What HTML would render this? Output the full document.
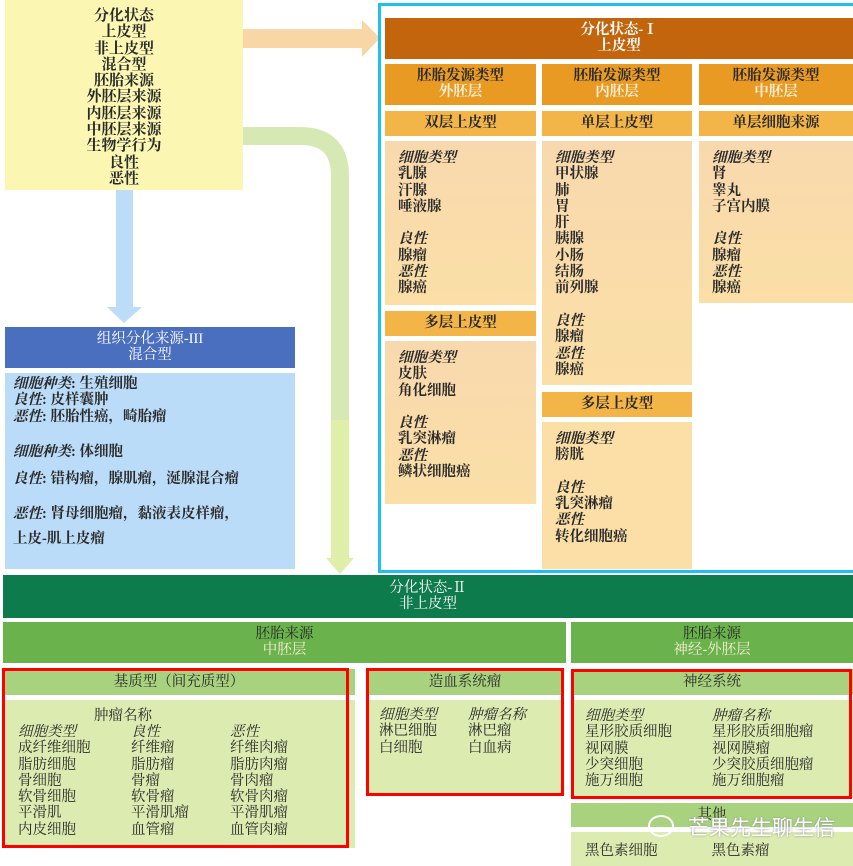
<!DOCTYPE html>
<html><head><meta charset="utf-8"><style>
*{margin:0;padding:0;box-sizing:border-box}
body{width:853px;height:866px;position:relative;background:#fff;overflow:hidden;font-family:"Liberation Serif","Noto Serif CJK SC",serif;font-size:14.5px;color:#2a2a2a;font-weight:bold}
.a{position:absolute}
.c{text-align:center}
.t{line-height:16.3px}
i{font-style:italic}
.w{color:#fff}
.lt{color:#f8efd8}
</style></head><body>
<svg class="a" style="left:0;top:0" width="853" height="866">
<rect x="243" y="29" width="122" height="19" fill="#f8d6a6"/>
<polygon points="362,20 380,38 362,57" fill="#f8d6a6"/>
<path d="M243 136 H300 Q340 136 340 176 V560" stroke="#d6e8b4" stroke-width="18" fill="none"/>
<rect x="331" y="420" width="18" height="140" fill="#dfeea8"/>
<polygon points="326,558 354,558 340,574" fill="#dfeea8"/>
<rect x="116" y="190" width="17" height="120" fill="#bcdcf8"/>
<polygon points="107,307 142,307 124,323" fill="#bcdcf8"/>
</svg>
<div class="a c t" style="left:5px;top:0px;width:238px;height:190px;background:#fbf7b2;padding-top:8px;font-size:15px">分化状态<br>上皮型<br>非上皮型<br>混合型<br>胚胎来源<br>外胚层来源<br>内胚层来源<br>中胚层来源<br>生物学行为<br>良性<br>恶性</div>
<div class="a" style="left:378px;top:3px;width:478px;height:570px;border:3px solid #1ec0ee"></div>
<div class="a c w t" style="left:385px;top:18px;width:468px;height:41px;background:#c2650c;padding-top:4px">分化状态-Ⅰ<br>上皮型</div>
<div class="a c t" style="left:385px;top:64px;width:151px;height:41px;background:#e99a22;padding-top:4px">胚胎发源类型<br><span class="lt">外胚层</span></div>
<div class="a c t" style="left:542px;top:64px;width:150px;height:41px;background:#e99a22;padding-top:4px">胚胎发源类型<br><span class="lt">内胚层</span></div>
<div class="a c t" style="left:699px;top:64px;width:154px;height:41px;background:#e99a22;padding-top:4px">胚胎发源类型<br><span class="lt">中胚层</span></div>
<div class="a c" style="left:385px;top:111px;width:151px;height:25px;background:#f3b548;line-height:25px">双层上皮型</div>
<div class="a c" style="left:542px;top:111px;width:150px;height:25px;background:#f3b548;line-height:25px">单层上皮型</div>
<div class="a c" style="left:699px;top:111px;width:154px;height:25px;background:#f3b548;line-height:25px">单层细胞来源</div>
<div class="a t" style="left:385px;top:141px;width:151px;height:164px;background:linear-gradient(#f8d9ae,#fbdfa6);padding:9px 0 0 13px"><i>细胞类型</i><br>乳腺<br>汗腺<br>唾液腺<br><br><i>良性</i><br>腺瘤<br><i>恶性</i><br>腺癌</div>
<div class="a t" style="left:542px;top:141px;width:150px;height:244px;background:linear-gradient(#f8d9ae,#fbdfa6);padding:9px 0 0 13px"><i>细胞类型</i><br>甲状腺<br>肺<br>胃<br>肝<br>胰腺<br>小肠<br>结肠<br>前列腺<br><br><i>良性</i><br>腺瘤<br><i>恶性</i><br>腺癌</div>
<div class="a t" style="left:699px;top:141px;width:154px;height:162px;background:linear-gradient(#f8d9ae,#fbdfa6);padding:9px 0 0 13px"><i>细胞类型</i><br>肾<br>睾丸<br>子宫内膜<br><br><i>良性</i><br>腺瘤<br><i>恶性</i><br>腺癌</div>
<div class="a c" style="left:385px;top:311px;width:151px;height:25px;background:#f3b548;line-height:25px">多层上皮型</div>
<div class="a t" style="left:385px;top:341px;width:151px;height:163px;background:linear-gradient(#f8d9ae,#fbdfa6);padding:9px 0 0 13px"><i>细胞类型</i><br>皮肤<br>角化细胞<br><br><i>良性</i><br>乳突淋瘤<br><i>恶性</i><br>鳞状细胞癌</div>
<div class="a c" style="left:542px;top:392px;width:150px;height:25px;background:#f3b548;line-height:25px">多层上皮型</div>
<div class="a t" style="left:542px;top:422px;width:150px;height:147px;background:#fbdfa6;padding:9px 0 0 13px"><i>细胞类型</i><br>膀胱<br><br><i>良性</i><br>乳突淋瘤<br><i>恶性</i><br>转化细胞癌</div>
<div class="a c w t" style="left:5px;top:327px;width:290px;height:41px;background:#4b6fbf;padding-top:4px;font-weight:normal">组织分化来源-III<br>混合型</div>
<div class="a" style="left:5px;top:373px;width:290px;height:196px;background:#badcf8;padding:3px 0 0 8px;line-height:16.3px">
<i>细胞种类</i>: 生殖细胞<br><i>良性</i>: 皮样囊肿<br><i>恶性</i>: 胚胎性癌，畸胎瘤
<div style="margin-top:19px"><i>细胞种类</i>: 体细胞</div>
<div style="margin-top:11px"><i>良性</i>: 错构瘤，腺肌瘤，涎腺混合瘤</div>
<div style="margin-top:19px"><i>恶性</i>: 肾母细胞瘤，黏液表皮样瘤，</div>
<div style="margin-top:8px">上皮-肌上皮瘤</div></div>
<div class="a c w t" style="left:3px;top:575px;width:850px;height:43px;background:#0d7b4b;padding-top:5px;font-weight:normal">分化状态-Ⅱ<br>非上皮型</div>
<div class="a c t" style="left:3px;top:622px;width:563px;height:41px;background:#6ab24c;padding-top:4px;font-weight:normal">胚胎来源<br><span class="lt">中胚层</span></div>
<div class="a c t" style="left:571px;top:622px;width:282px;height:41px;background:#6ab24c;padding-top:4px;font-weight:normal">胚胎来源<br><span class="lt">神经-外胚层</span></div>
<div class="a c" style="left:3px;top:669px;width:352px;height:26px;background:#a9d27f;line-height:26px;font-weight:normal">基质型（间充质型）</div>
<div class="a" style="left:3px;top:700px;width:352px;height:148px;background:#dcebb0"></div>
<div class="a c" style="left:3px;top:704px;width:240px;font-weight:normal">肿瘤名称</div>
<div class="a t" style="left:18px;top:724px;font-weight:normal"><i>细胞类型</i><br>成纤维细胞<br>脂肪细胞<br>骨细胞<br>软骨细胞<br>平滑肌<br>内皮细胞</div>
<div class="a t" style="left:131px;top:724px;font-weight:normal"><i>良性</i><br>纤维瘤<br>脂肪瘤<br>骨瘤<br>软骨瘤<br>平滑肌瘤<br>血管瘤</div>
<div class="a t" style="left:230px;top:724px;font-weight:normal"><i>恶性</i><br>纤维肉瘤<br>脂肪肉瘤<br>骨肉瘤<br>软骨肉瘤<br>平滑肌瘤<br>血管肉瘤</div>
<div class="a" style="left:2px;top:668px;width:347px;height:180px;border:3px solid #f00"></div>
<div class="a c" style="left:367px;top:669px;width:196px;height:26px;background:#a9d27f;line-height:26px;font-weight:normal">造血系统瘤</div>
<div class="a" style="left:367px;top:700px;width:196px;height:95px;background:#dcebb0"></div>
<div class="a t" style="left:379px;top:707px;font-weight:normal"><i>细胞类型</i><br>淋巴细胞<br>白细胞</div>
<div class="a t" style="left:468px;top:707px;font-weight:normal"><i>肿瘤名称</i><br>淋巴瘤<br>白血病</div>
<div class="a" style="left:366px;top:668px;width:198px;height:128px;border:3px solid #f00"></div>
<div class="a c" style="left:571px;top:669px;width:282px;height:26px;background:#a9d27f;line-height:26px;font-weight:normal">神经系统</div>
<div class="a" style="left:571px;top:700px;width:282px;height:98px;background:#dcebb0"></div>
<div class="a t" style="left:585px;top:708px;font-weight:normal"><i>细胞类型</i><br>星形胶质细胞<br>视网膜<br>少突细胞<br>施万细胞</div>
<div class="a t" style="left:712px;top:708px;font-weight:normal"><i>肿瘤名称</i><br>星形胶质细胞瘤<br>视网膜瘤<br>少突胶质细胞瘤<br>施万细胞瘤</div>
<div class="a" style="left:571px;top:669px;width:281px;height:130px;border:3px solid #f00"></div>
<div class="a c" style="left:571px;top:803px;width:282px;height:24px;background:#a9d27f;line-height:24px;font-weight:normal">其他</div>
<div class="a" style="left:571px;top:832px;width:282px;height:34px;background:#dcebb0;padding:7px 0 0 14px;font-weight:normal">黑色素细胞<span style="margin-left:54px">黑色素瘤</span></div>
<div class="a" style="left:648px;top:815px;width:26px;height:22px;border:2px solid #fff;border-radius:50%"></div>
<div class="a w" style="left:688px;top:812px;font-size:21px;font-weight:normal;font-family:'Noto Sans CJK SC',sans-serif;text-shadow:0 0 2px #888">芒果先生聊生信</div>
</body></html>
